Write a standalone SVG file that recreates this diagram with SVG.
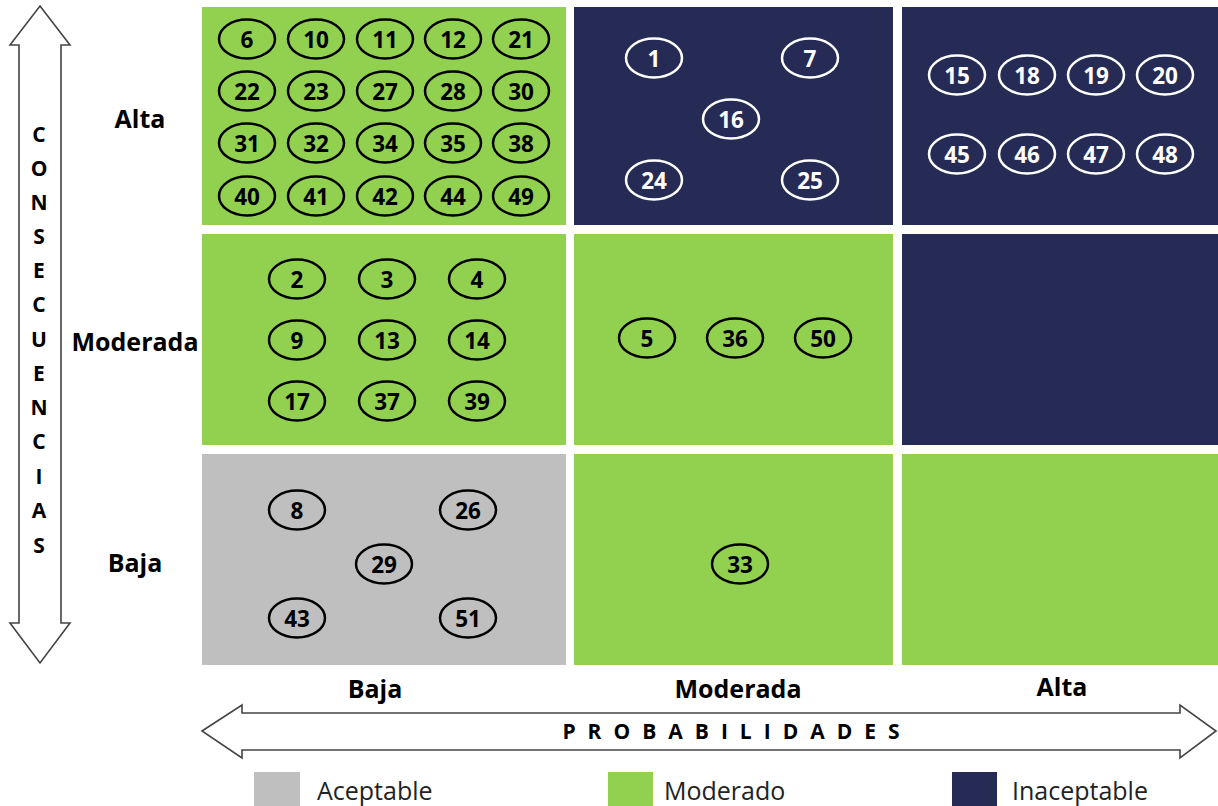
<svg xmlns="http://www.w3.org/2000/svg" width="1218" height="806" viewBox="0 0 1218 806">
<style>
.g{fill:#92D050}.n{fill:#252B55}.a{fill:#BFBFBF}
.eb{fill:none;stroke:#000;stroke-width:2.5}
.ew{fill:none;stroke:#fff;stroke-width:2.5}
.tb{font-family:"Open Sans","DejaVu Sans",sans-serif;font-weight:bold;font-size:22.5px;fill:#000;text-anchor:middle;dominant-baseline:central}
.tw{font-family:"Open Sans","DejaVu Sans",sans-serif;font-weight:bold;font-size:22.5px;fill:#fff;text-anchor:middle;dominant-baseline:central}
.lab{font-family:"Open Sans","DejaVu Sans",sans-serif;font-weight:bold;font-size:25px;fill:#000;text-anchor:middle;dominant-baseline:central}
.ax{font-family:"Open Sans","DejaVu Sans",sans-serif;font-weight:bold;font-size:21px;fill:#000;text-anchor:middle;dominant-baseline:central}
.leg{font-family:"Open Sans","DejaVu Sans",sans-serif;font-size:25px;fill:#222}
.arr{fill:#fff;stroke:#444;stroke-width:1.6}
</style>
<defs>
<g id="eB"><ellipse cx="0" cy="0" rx="28" ry="19.5" class="eb"/></g>
<g id="eW"><ellipse cx="0" cy="0" rx="28" ry="19.5" class="ew"/></g>
</defs>

<g id="cells">
<rect x="202" y="7" width="364" height="218" class="g"/>
<rect x="574" y="7" width="319" height="218" class="n"/>
<rect x="902" y="7" width="316" height="218" class="n"/>
<rect x="202" y="234" width="364" height="211" class="g"/>
<rect x="574" y="234" width="319" height="211" class="g"/>
<rect x="902" y="234" width="316" height="211" class="n"/>
<rect x="202" y="454" width="364" height="211" class="a"/>
<rect x="574" y="454" width="319" height="211" class="g"/>
<rect x="902" y="454" width="316" height="211" class="g"/>
</g>

<g id="axes">
<path class="arr" d="M40,6 L70,45 L61,45 L61,623 L70,623 L40,663 L10,623 L19,623 L19,45 L10,45 Z"/>
<path class="arr" d="M202,731 L242,705 L242,713 L1180,713 L1180,705 L1216,731 L1180,758 L1180,750 L242,750 L242,758 Z"/>
<g class="ax">
<text x="39" y="134">C</text><text x="39" y="168">O</text><text x="39" y="202">N</text><text x="39" y="236">S</text><text x="39" y="270">E</text><text x="39" y="304">C</text><text x="39" y="339">U</text><text x="39" y="373">E</text><text x="39" y="407">N</text><text x="39" y="441">C</text><text x="39" y="476">I</text><text x="39" y="510">A</text><text x="39" y="545">S</text>
</g>
<text class="ax" x="737" y="731" letter-spacing="12">PROBABILIDADES</text>
</g>

<g id="labels">
<text class="lab" x="140" y="118">Alta</text>
<text class="lab" x="135" y="341">Moderada</text>
<text class="lab" x="135" y="562">Baja</text>
<text class="lab" x="375" y="688">Baja</text>
<text class="lab" x="738" y="688">Moderada</text>
<text class="lab" x="1062" y="686">Alta</text>
</g>

<g id="cell-alta-baja">
<use href="#eB" x="247" y="39"/><text class="tb" x="247" y="39">6</text>
<use href="#eB" x="316" y="39"/><text class="tb" x="316" y="39">10</text>
<use href="#eB" x="385" y="39"/><text class="tb" x="385" y="39">11</text>
<use href="#eB" x="453" y="39"/><text class="tb" x="453" y="39">12</text>
<use href="#eB" x="521" y="39"/><text class="tb" x="521" y="39">21</text>
<use href="#eB" x="247" y="91"/><text class="tb" x="247" y="91">22</text>
<use href="#eB" x="316" y="91"/><text class="tb" x="316" y="91">23</text>
<use href="#eB" x="385" y="91"/><text class="tb" x="385" y="91">27</text>
<use href="#eB" x="453" y="91"/><text class="tb" x="453" y="91">28</text>
<use href="#eB" x="521" y="91"/><text class="tb" x="521" y="91">30</text>
<use href="#eB" x="247" y="143"/><text class="tb" x="247" y="143">31</text>
<use href="#eB" x="316" y="143"/><text class="tb" x="316" y="143">32</text>
<use href="#eB" x="385" y="143"/><text class="tb" x="385" y="143">34</text>
<use href="#eB" x="453" y="143"/><text class="tb" x="453" y="143">35</text>
<use href="#eB" x="521" y="143"/><text class="tb" x="521" y="143">38</text>
<use href="#eB" x="247" y="196"/><text class="tb" x="247" y="196">40</text>
<use href="#eB" x="316" y="196"/><text class="tb" x="316" y="196">41</text>
<use href="#eB" x="385" y="196"/><text class="tb" x="385" y="196">42</text>
<use href="#eB" x="453" y="196"/><text class="tb" x="453" y="196">44</text>
<use href="#eB" x="521" y="196"/><text class="tb" x="521" y="196">49</text>
</g>

<g id="cell-alta-moderada">
<use href="#eW" x="654" y="58"/><text class="tw" x="654" y="58">1</text>
<use href="#eW" x="810" y="58"/><text class="tw" x="810" y="58">7</text>
<use href="#eW" x="731" y="119"/><text class="tw" x="731" y="119">16</text>
<use href="#eW" x="654" y="180"/><text class="tw" x="654" y="180">24</text>
<use href="#eW" x="810" y="180"/><text class="tw" x="810" y="180">25</text>
</g>

<g id="cell-alta-alta">
<use href="#eW" x="957" y="75"/><text class="tw" x="957" y="75">15</text>
<use href="#eW" x="1027" y="75"/><text class="tw" x="1027" y="75">18</text>
<use href="#eW" x="1096" y="75"/><text class="tw" x="1096" y="75">19</text>
<use href="#eW" x="1165" y="75"/><text class="tw" x="1165" y="75">20</text>
<use href="#eW" x="957" y="154"/><text class="tw" x="957" y="154">45</text>
<use href="#eW" x="1027" y="154"/><text class="tw" x="1027" y="154">46</text>
<use href="#eW" x="1096" y="154"/><text class="tw" x="1096" y="154">47</text>
<use href="#eW" x="1165" y="154"/><text class="tw" x="1165" y="154">48</text>
</g>

<g id="cell-moderada-baja">
<use href="#eB" x="297" y="279"/><text class="tb" x="297" y="279">2</text>
<use href="#eB" x="387" y="279"/><text class="tb" x="387" y="279">3</text>
<use href="#eB" x="477" y="279"/><text class="tb" x="477" y="279">4</text>
<use href="#eB" x="297" y="340"/><text class="tb" x="297" y="340">9</text>
<use href="#eB" x="387" y="340"/><text class="tb" x="387" y="340">13</text>
<use href="#eB" x="477" y="340"/><text class="tb" x="477" y="340">14</text>
<use href="#eB" x="297" y="401"/><text class="tb" x="297" y="401">17</text>
<use href="#eB" x="387" y="401"/><text class="tb" x="387" y="401">37</text>
<use href="#eB" x="477" y="401"/><text class="tb" x="477" y="401">39</text>
</g>

<g id="cell-moderada-moderada">
<use href="#eB" x="647" y="338"/><text class="tb" x="647" y="338">5</text>
<use href="#eB" x="735" y="338"/><text class="tb" x="735" y="338">36</text>
<use href="#eB" x="823" y="338"/><text class="tb" x="823" y="338">50</text>
</g>

<g id="cell-baja-baja">
<use href="#eB" x="297" y="510"/><text class="tb" x="297" y="510">8</text>
<use href="#eB" x="468" y="510"/><text class="tb" x="468" y="510">26</text>
<use href="#eB" x="384" y="564"/><text class="tb" x="384" y="564">29</text>
<use href="#eB" x="297" y="618"/><text class="tb" x="297" y="618">43</text>
<use href="#eB" x="468" y="618"/><text class="tb" x="468" y="618">51</text>
</g>

<g id="cell-baja-moderada">
<use href="#eB" x="740" y="564"/><text class="tb" x="740" y="564">33</text>
</g>

<g id="legend">
<rect x="254" y="772" width="46" height="40" class="a"/>
<text class="leg" x="317" y="800">Aceptable</text>
<rect x="608" y="772" width="45" height="40" class="g"/>
<text class="leg" x="664" y="800">Moderado</text>
<rect x="952" y="772" width="45" height="40" class="n"/>
<text class="leg" x="1012" y="800">Inaceptable</text>
</g>
</svg>
